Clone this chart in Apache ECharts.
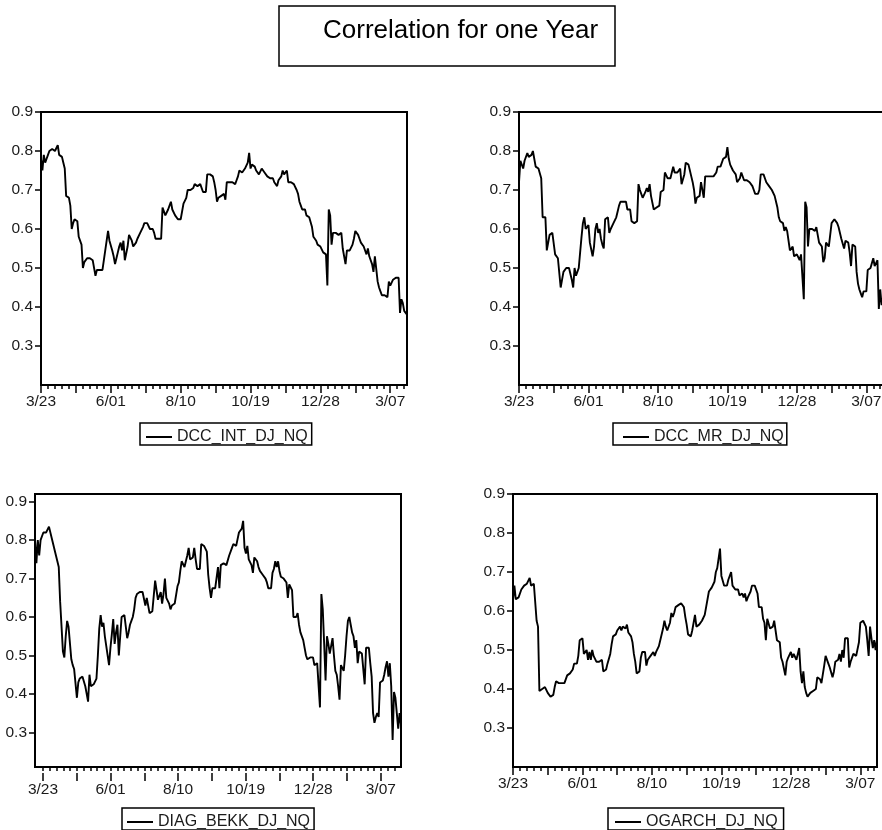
<!DOCTYPE html>
<html>
<head>
<meta charset="utf-8">
<script src="https://cdn.jsdelivr.net/npm/echarts@6/dist/echarts.min.js"></script>
<style>
  html, body { margin: 0; padding: 0; background: #fff; }
  #chart { width: 882px; height: 830px; }
</style>
</head>
<body>
<div id="chart"></div>
<script>
// business days starting 3/23, one year of observations
var startDate = '1999-03-23'
var yTicks = [0.3, 0.4, 0.5, 0.6, 0.7, 0.8, 0.9]

var dccInt = [
  0.78, 0.75, 0.79, 0.77, 0.78, 0.79, 0.80, 0.805, 0.805, 0.80,
  0.80, 0.80, 0.815, 0.79, 0.785, 0.785, 0.77, 0.755, 0.685, 0.685,
  0.68, 0.66, 0.60, 0.615, 0.625, 0.625, 0.62, 0.58, 0.575, 0.56,
  0.50, 0.515, 0.52, 0.525, 0.525, 0.525, 0.52, 0.52, 0.52, 0.48,
  0.495, 0.49, 0.495, 0.495, 0.495, 0.52, 0.545, 0.57, 0.595, 0.57,
  0.57, 0.545, 0.53, 0.51, 0.525, 0.54, 0.555, 0.565, 0.545, 0.57,
  0.52, 0.525, 0.555, 0.585, 0.585, 0.57, 0.555, 0.56, 0.565, 0.575,
  0.58, 0.59, 0.595, 0.605, 0.615, 0.615, 0.615, 0.615, 0.60, 0.60,
  0.60, 0.59, 0.575, 0.575, 0.575, 0.575, 0.575, 0.655, 0.655, 0.635,
  0.64, 0.65, 0.66, 0.67, 0.65, 0.65, 0.635, 0.63, 0.625, 0.625,
  0.625, 0.625, 0.665, 0.66, 0.68, 0.70, 0.70, 0.70, 0.695, 0.705,
  0.715, 0.72, 0.71, 0.715, 0.715, 0.72, 0.695, 0.695, 0.695, 0.74,
  0.74, 0.74, 0.74, 0.735, 0.72, 0.70, 0.67, 0.68, 0.685, 0.685,
  0.685, 0.69, 0.675, 0.72, 0.72, 0.72, 0.72, 0.72, 0.72, 0.715,
  0.725, 0.735, 0.75, 0.75, 0.745, 0.745, 0.755, 0.76, 0.77, 0.795,
  0.755, 0.765, 0.77, 0.76, 0.75, 0.745, 0.74, 0.74, 0.755, 0.75,
  0.745, 0.74, 0.735, 0.735, 0.73, 0.73, 0.73, 0.72, 0.715, 0.71,
  0.725, 0.73, 0.735, 0.75, 0.74, 0.745, 0.75, 0.72, 0.72, 0.72,
  0.715, 0.715, 0.71, 0.70, 0.69, 0.67, 0.66, 0.65, 0.65, 0.65,
  0.635, 0.63, 0.63, 0.625, 0.605, 0.58, 0.575, 0.57, 0.56, 0.555,
  0.555, 0.55, 0.54, 0.54, 0.535, 0.455, 0.65, 0.635, 0.56, 0.59,
  0.59, 0.59, 0.59, 0.585, 0.585, 0.59, 0.55, 0.545, 0.51, 0.545,
  0.545, 0.545, 0.54, 0.56, 0.575, 0.595, 0.59, 0.585, 0.575, 0.565,
  0.56, 0.555, 0.545, 0.535, 0.55, 0.53, 0.535, 0.51, 0.49, 0.53,
  0.53, 0.465, 0.45, 0.44, 0.43, 0.43, 0.43, 0.425, 0.425, 0.465,
  0.455, 0.455, 0.47, 0.475, 0.475, 0.475, 0.475, 0.385, 0.42, 0.41,
  0.39, 0.385, 0.38
]

var dccMr = [
  0.72, 0.775, 0.77, 0.755, 0.775, 0.78, 0.795, 0.785, 0.785, 0.79,
  0.80, 0.80, 0.76, 0.76, 0.755, 0.75, 0.73, 0.63, 0.63, 0.63,
  0.545, 0.54, 0.585, 0.59, 0.59, 0.59, 0.535, 0.53, 0.525, 0.525,
  0.45, 0.47, 0.49, 0.49, 0.50, 0.50, 0.50, 0.495, 0.47, 0.45,
  0.50, 0.48, 0.49, 0.50, 0.505, 0.58, 0.615, 0.63, 0.60, 0.605,
  0.61, 0.565, 0.565, 0.53, 0.555, 0.60, 0.615, 0.59, 0.60, 0.575,
  0.56, 0.55, 0.625, 0.63, 0.63, 0.59, 0.60, 0.595, 0.615, 0.62,
  0.63, 0.645, 0.66, 0.67, 0.67, 0.67, 0.67, 0.67, 0.65, 0.645,
  0.65, 0.62, 0.615, 0.615, 0.62, 0.62, 0.715, 0.70, 0.69, 0.68,
  0.68, 0.695, 0.705, 0.695, 0.715, 0.685, 0.685, 0.65, 0.655, 0.655,
  0.66, 0.66, 0.695, 0.70, 0.70, 0.745, 0.74, 0.73, 0.73, 0.73,
  0.73, 0.76, 0.745, 0.745, 0.745, 0.745, 0.755, 0.715, 0.715, 0.74,
  0.77, 0.765, 0.765, 0.75, 0.735, 0.72, 0.70, 0.665, 0.68, 0.68,
  0.685, 0.72, 0.715, 0.68, 0.735, 0.735, 0.735, 0.735, 0.735, 0.73,
  0.735, 0.74, 0.745, 0.76, 0.76, 0.76, 0.755, 0.78, 0.785, 0.785,
  0.81, 0.78, 0.765, 0.765, 0.75, 0.745, 0.74, 0.72, 0.715, 0.73,
  0.745, 0.74, 0.725, 0.725, 0.725, 0.72, 0.72, 0.715, 0.71, 0.70,
  0.69, 0.685, 0.69, 0.70, 0.74, 0.735, 0.74, 0.745, 0.72, 0.715,
  0.71, 0.705, 0.70, 0.70, 0.685, 0.685, 0.655, 0.63, 0.62, 0.625,
  0.615, 0.595, 0.605, 0.595, 0.59, 0.545, 0.545, 0.555, 0.53, 0.535,
  0.535, 0.53, 0.52, 0.535, 0.54, 0.42, 0.67, 0.655, 0.555, 0.60,
  0.60, 0.60, 0.595, 0.595, 0.605, 0.61, 0.565, 0.56, 0.555, 0.515,
  0.525, 0.565, 0.56, 0.555, 0.555, 0.615, 0.62, 0.625, 0.63, 0.615,
  0.605, 0.60, 0.575, 0.58, 0.55, 0.57, 0.57, 0.565, 0.54, 0.505,
  0.56, 0.555, 0.555, 0.49, 0.46, 0.445, 0.435, 0.425, 0.44, 0.44,
  0.44, 0.495, 0.495, 0.50, 0.505, 0.525, 0.505, 0.51, 0.52, 0.395,
  0.445, 0.405, 0.42
]

var diagBekk = [
  0.80, 0.74, 0.80, 0.76, 0.80, 0.81, 0.82, 0.82, 0.82, 0.815,
  0.835, 0.83, 0.805, 0.79, 0.79, 0.76, 0.745, 0.73, 0.64, 0.635,
  0.51, 0.495, 0.55, 0.59, 0.575, 0.57, 0.49, 0.475, 0.465, 0.46,
  0.39, 0.43, 0.44, 0.445, 0.445, 0.44, 0.42, 0.40, 0.38, 0.45,
  0.42, 0.42, 0.425, 0.43, 0.44, 0.50, 0.57, 0.605, 0.575, 0.585,
  0.55, 0.525, 0.52, 0.475, 0.52, 0.555, 0.595, 0.53, 0.56, 0.58,
  0.50, 0.505, 0.60, 0.605, 0.605, 0.60, 0.545, 0.56, 0.58, 0.59,
  0.60, 0.62, 0.65, 0.66, 0.665, 0.665, 0.665, 0.665, 0.66, 0.63,
  0.65, 0.645, 0.61, 0.615, 0.615, 0.615, 0.695, 0.69, 0.645, 0.65,
  0.665, 0.635, 0.66, 0.70, 0.65, 0.645, 0.635, 0.62, 0.63, 0.635,
  0.635, 0.64, 0.68, 0.69, 0.72, 0.745, 0.74, 0.73, 0.745, 0.76,
  0.78, 0.75, 0.755, 0.755, 0.78, 0.75, 0.725, 0.725, 0.725, 0.79,
  0.79, 0.785, 0.78, 0.77, 0.71, 0.675, 0.65, 0.675, 0.675, 0.675,
  0.675, 0.73, 0.675, 0.735, 0.74, 0.74, 0.735, 0.735, 0.735, 0.76,
  0.765, 0.78, 0.79, 0.79, 0.785, 0.78, 0.82, 0.815, 0.83, 0.85,
  0.78, 0.765, 0.785, 0.75, 0.745, 0.735, 0.715, 0.755, 0.75, 0.745,
  0.73, 0.72, 0.715, 0.71, 0.705, 0.70, 0.69, 0.675, 0.675, 0.675,
  0.715, 0.725, 0.745, 0.73, 0.745, 0.72, 0.705, 0.70, 0.70, 0.695,
  0.69, 0.65, 0.685, 0.685, 0.67, 0.60, 0.60, 0.60, 0.61, 0.58,
  0.56, 0.565, 0.54, 0.52, 0.50, 0.49, 0.49, 0.495, 0.50, 0.495,
  0.475, 0.48, 0.48, 0.48, 0.365, 0.66, 0.62, 0.53, 0.435, 0.55,
  0.53, 0.505, 0.50, 0.545, 0.50, 0.46, 0.45, 0.42, 0.385, 0.475,
  0.47, 0.46, 0.50, 0.55, 0.59, 0.60, 0.58, 0.56, 0.55, 0.52,
  0.54, 0.48, 0.51, 0.51, 0.505, 0.505, 0.425, 0.52, 0.52, 0.52,
  0.48, 0.445, 0.35, 0.325, 0.34, 0.35, 0.34, 0.43, 0.43, 0.435,
  0.45, 0.47, 0.485, 0.445, 0.48, 0.42, 0.28, 0.405, 0.39, 0.35,
  0.31, 0.35, 0.32
]

var ogarch = [
  0.63, 0.665, 0.63, 0.635, 0.635, 0.645, 0.655, 0.66, 0.665, 0.67,
  0.67, 0.675, 0.685, 0.665, 0.67, 0.67, 0.665, 0.575, 0.56, 0.395,
  0.395, 0.40, 0.395, 0.405, 0.405, 0.39, 0.385, 0.38, 0.375, 0.385,
  0.405, 0.42, 0.425, 0.415, 0.42, 0.415, 0.415, 0.415, 0.41, 0.435,
  0.44, 0.44, 0.445, 0.45, 0.465, 0.47, 0.465, 0.485, 0.525, 0.525,
  0.53, 0.49, 0.49, 0.50, 0.475, 0.495, 0.475, 0.50, 0.485, 0.48,
  0.47, 0.475, 0.47, 0.465, 0.475, 0.445, 0.44, 0.45, 0.465, 0.47,
  0.49, 0.515, 0.535, 0.54, 0.54, 0.55, 0.555, 0.56, 0.55, 0.56,
  0.565, 0.555, 0.565, 0.545, 0.54, 0.535, 0.52, 0.49, 0.47, 0.44,
  0.445, 0.445, 0.48, 0.495, 0.495, 0.495, 0.46, 0.475, 0.48, 0.485,
  0.49, 0.495, 0.485, 0.495, 0.50, 0.51, 0.525, 0.53, 0.555, 0.575,
  0.56, 0.55, 0.545, 0.57, 0.595, 0.585, 0.595, 0.61, 0.615, 0.615,
  0.615, 0.62, 0.62, 0.61, 0.585, 0.565, 0.54, 0.545, 0.535, 0.55,
  0.545, 0.59, 0.56, 0.565, 0.565, 0.57, 0.575, 0.58, 0.59, 0.61,
  0.615, 0.65, 0.655, 0.66, 0.66, 0.675, 0.70, 0.71, 0.715, 0.76,
  0.69, 0.69, 0.665, 0.66, 0.665, 0.68, 0.675, 0.70, 0.665, 0.66,
  0.655, 0.655, 0.655, 0.64, 0.645, 0.645, 0.635, 0.645, 0.625, 0.635,
  0.64, 0.65, 0.665, 0.665, 0.665, 0.67, 0.645, 0.61, 0.61, 0.61,
  0.58, 0.57, 0.525, 0.58, 0.575, 0.555, 0.56, 0.56, 0.575, 0.575,
  0.525, 0.52, 0.52, 0.48, 0.47, 0.465, 0.435, 0.47, 0.48, 0.48,
  0.495, 0.48, 0.49, 0.485, 0.475, 0.49, 0.505, 0.445, 0.415, 0.445,
  0.405, 0.39, 0.38, 0.385, 0.39, 0.39, 0.395, 0.40, 0.40, 0.43,
  0.425, 0.425, 0.415, 0.415, 0.46, 0.485, 0.48, 0.465, 0.455, 0.45,
  0.43, 0.445, 0.47, 0.47, 0.475, 0.49, 0.47, 0.50, 0.48, 0.53,
  0.53, 0.53, 0.455, 0.47, 0.475, 0.49, 0.49, 0.485, 0.49, 0.52,
  0.57, 0.575, 0.575, 0.58, 0.56, 0.525, 0.485, 0.56, 0.53, 0.505,
  0.525, 0.50, 0.525
]

function makeDates(start, count) {
  var out = []
  var d = new Date(start + 'T00:00:00Z')
  while (out.length < count) {
    var wd = d.getUTCDay()
    if (wd !== 0 && wd !== 6) {
      var day = d.getUTCDate()
      out.push((d.getUTCMonth() + 1) + '/' + (day < 10 ? '0' + day : day))
    }
    d.setUTCDate(d.getUTCDate() + 1)
  }
  return out
}

var dates = makeDates(startDate, dccInt.length)
var font = 'Liberation Sans, Arial, sans-serif'
var ink = '#000'

// short ticks every 5 days, labels every 50
function dateAxis(grid, offset) {
  return {
    type: 'category', gridIndex: grid, data: dates, boundaryGap: false, offset: offset || 0,
    axisLine: { show: false },
    axisTick: { interval: 4, length: 4, lineStyle: { color: ink, width: 1.5 } },
    axisLabel: {
      interval: function (i) { return i % 50 === 0 },
      margin: 9, fontSize: 15.5, color: '#1a1a1a', fontFamily: font
    }
  }
}
// longer ticks every 25 days
function longTickAxis(grid, offset) {
  return {
    type: 'category', gridIndex: grid, data: dates, boundaryGap: false, offset: offset || 0,
    position: 'bottom',
    axisLine: { show: false },
    axisTick: { interval: 24, length: 8, lineStyle: { color: ink, width: 1.5 } },
    axisLabel: { show: false }
  }
}
function valueAxis(grid, min, max) {
  return {
    type: 'value', gridIndex: grid, min: min, max: max,
    axisLine: { show: false },
    splitLine: { show: false },
    axisTick: { show: true, length: 6, customValues: yTicks, lineStyle: { color: ink, width: 1.5 } },
    axisLabel: {
      customValues: yTicks, margin: 8, fontSize: 15.5, color: '#1a1a1a', fontFamily: font,
      formatter: function (v) { return v.toFixed(1) }
    }
  }
}
function legendBox(name, left, top, padding) {
  return {
    data: [name], left: left, top: top, padding: padding,
    borderColor: ink, borderWidth: 1.5, borderRadius: 0,
    icon: 'rect', itemWidth: 26, itemHeight: 2, itemGap: 0, selectedMode: false,
    itemStyle: { color: ink },
    textStyle: { fontSize: 16, color: '#1a1a1a', fontFamily: font, lineHeight: 14 }
  }
}
function plotGrid(left, top, width, framed) {
  return {
    left: left, top: top, width: width, height: 273, outerBoundsMode: 'none',
    show: !!framed, borderColor: ink, borderWidth: 2
  }
}
function lineSeries(name, xi, yi, values) {
  return {
    name: name, type: 'line', xAxisIndex: xi, yAxisIndex: yi, data: values,
    symbol: 'none', lineStyle: { color: ink, width: 1.9 }, itemStyle: { color: ink }
  }
}

var chart = echarts.init(document.getElementById('chart'))
chart.setOption({
  animation: false,
  backgroundColor: '#fff',
  color: [ink],
  title: {
    text: 'Correlation for one Year', left: 279, top: 6,
    padding: [10, 17, 20, 44], borderColor: ink, borderWidth: 1.5,
    textStyle: { fontSize: 26, fontWeight: 'normal', color: ink, fontFamily: font, lineHeight: 30 }
  },
  legend: [
    legendBox('DCC_INT_DJ_NQ', 140, 423, [6, 4, 0, 6]),
    legendBox('DCC_MR_DJ_NQ', 613, 423, [6, 3, 0, 10]),
    legendBox('DIAG_BEKK_DJ_NQ', 122, 808, [6, 4, 0, 5]),
    legendBox('OGARCH_DJ_NQ', 608, 808, [6, 6, 0, 7])
  ],
  grid: [
    plotGrid(41, 112, 366, true),
    plotGrid(519, 112, 364, true),   // right edge sits just off the page
    plotGrid(35, 494, 366, true),
    plotGrid(513, 494, 364, true),
    // the bottom-left panel has its date axis drawn slightly shifted
    plotGrid(43, 494, 354, false)
  ],
  xAxis: [
    dateAxis(0), longTickAxis(0),
    dateAxis(1), longTickAxis(1),
    { type: 'category', gridIndex: 2, data: dates, boundaryGap: false, axisLine: { show: false }, axisTick: { show: false }, axisLabel: { show: false } },
    dateAxis(3), longTickAxis(3),
    dateAxis(4, 6), longTickAxis(4, 6)
  ],
  yAxis: [
    valueAxis(0, 0.2, 0.9),
    valueAxis(1, 0.2, 0.9),
    valueAxis(2, 0.21, 0.92),
    valueAxis(3, 0.2, 0.9),
    { type: 'value', gridIndex: 4, show: false }
  ],
  series: [
    lineSeries('DCC_INT_DJ_NQ', 0, 0, dccInt),
    lineSeries('DCC_MR_DJ_NQ', 2, 1, dccMr),
    lineSeries('DIAG_BEKK_DJ_NQ', 4, 2, diagBekk),
    lineSeries('OGARCH_DJ_NQ', 5, 3, ogarch)
  ]
})
</script>
</body>
</html>
